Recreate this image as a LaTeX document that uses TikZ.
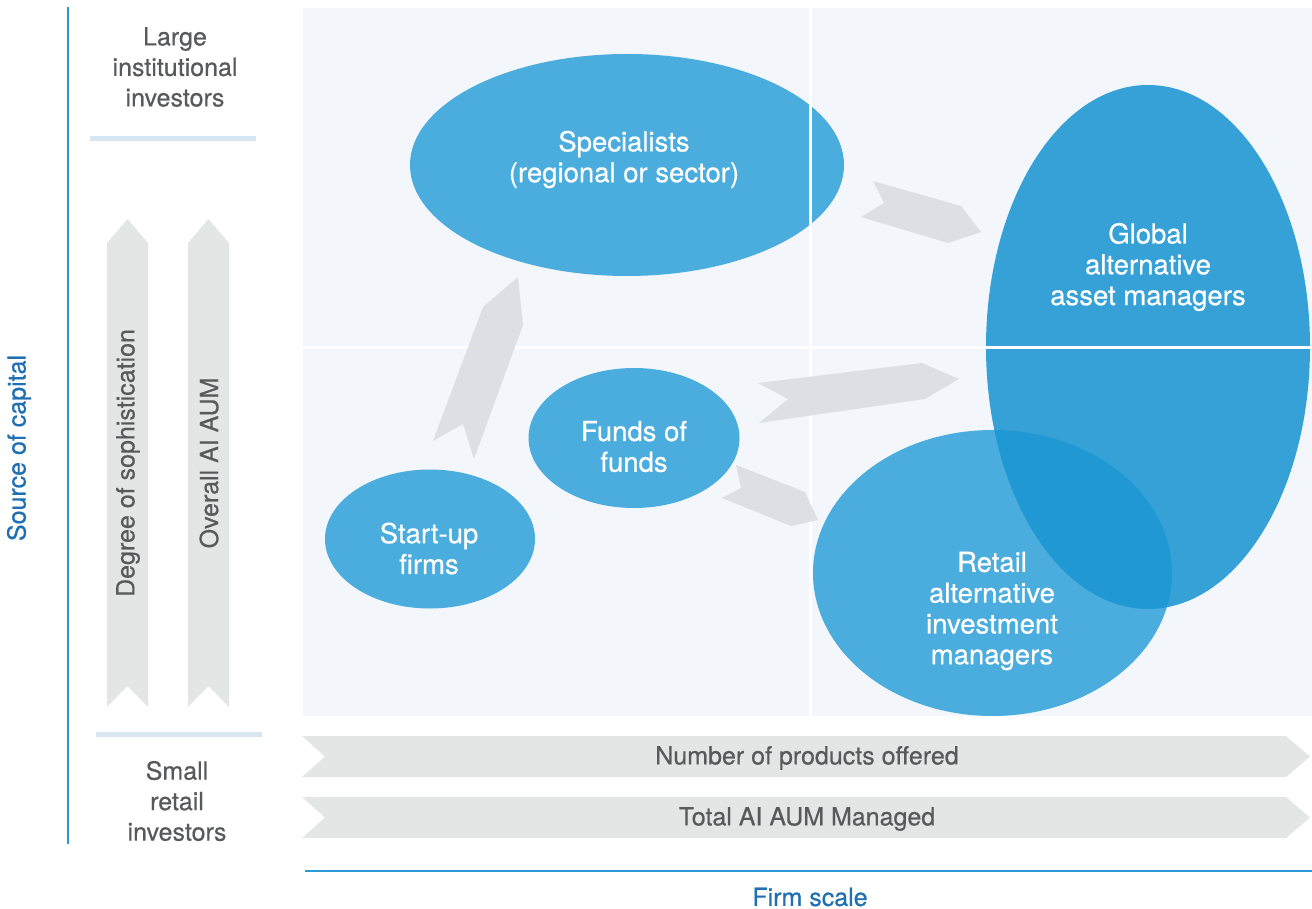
\documentclass[tikz,border=0pt]{standalone}
\usepackage{fontspec}
\setmainfont{TeX Gyre Heros}
\newfontfamily\blobfam[FakeBold=0.6]{TeX Gyre Heros}
\newfontfamily\labelfam[FakeBold=0.5]{TeX Gyre Heros}
\usetikzlibrary{shapes.geometric}
\definecolor{panelbg}{HTML}{F3F7FB}
\definecolor{blobblue}{HTML}{4AADDD}
\definecolor{globalblue}{HTML}{1B96D3}
\definecolor{arrgray}{HTML}{D8DBDF}
\definecolor{bargray}{HTML}{E4E5E5}
\definecolor{labelgray}{HTML}{58595B}
\definecolor{axisblue}{HTML}{2C9AD6}
\definecolor{titleblue}{HTML}{1F6FB2}
\definecolor{sepblue}{HTML}{D6E6F3}
\newcommand\lblfont{\labelfam\fontsize{25}{30.5}\selectfont}
\newcommand\blobfont{\blobfam\fontsize{27.5}{30.8}\selectfont}
\tikzset{
  blob/.style={ellipse, fill=blobblue, inner sep=0pt},
  blobtext/.style={text=white, align=center, font=\blobfont},
  flowarrow/.style={fill=arrgray, fill opacity=0.85},
  scalebar/.style={fill=bargray},
  sidelabel/.style={text=labelgray, align=center, font=\lblfont},
  axislabel/.style={text=titleblue, font=\lblfont},
  gridline/.style={draw=white, line width=3pt},
  sepline/.style={draw=sepblue, line width=5pt},
  axisline/.style={draw=axisblue, line width=2pt}
}
\begin{document}
\begin{tikzpicture}[x=1pt,y=-1pt]
\useasboundingbox (0,0) rectangle (1312,909);
% panel
\fill[panelbg] (303,8) rectangle (1312,716);
\begin{scope}
\clip (303,8) rectangle (1312,716);
\node[blob, minimum width=434pt, minimum height=222pt] (spec) at (627,165) {};
\node[blob, minimum width=211pt, minimum height=140pt] (fof) at (634,438) {};
\node[blob, minimum width=210pt, minimum height=139pt] (start) at (430,539) {};
\node[blob, minimum width=359pt, minimum height=286pt] (retail) at (992.5,573) {};
\node[ellipse, fill=globalblue, fill opacity=0.88, inner sep=0pt, minimum width=324pt, minimum height=524pt] (global) at (1148,347) {};
\end{scope}
\node[blobtext] (spectxt) at (624,159.5) {Specialists\\(regional or sector)};
\node[blobtext] (foftxt) at (634,446.5) {Funds of\\funds};
\node[blobtext] (starttxt) at (429,548.5) {Start-up\\firms};
\node[blobtext] (globaltxt) at (1148,267) {Global\\alternative\\asset managers};
\node[blobtext] (retailtxt) at (992,611) {Retail\\alternative\\investment\\managers};
% grid lines
\coordinate (vtop) at (810,8);
\coordinate (vbot) at (810,716);
\coordinate (hl) at (303,347.5);
\coordinate (hr) at (1312,347.5);
\draw[gridline] (vtop) -- (vbot);
\draw[gridline] (hl) -- (hr);
% flow arrows
\fill[flowarrow] (518,277) -- (523,325) -- (474,459) -- (463,424) -- (433,441) -- (483,307) -- cycle;
\fill[flowarrow] (873,181) -- (961,206) -- (981,232) -- (948,243) -- (861,217) -- (884,203) -- cycle;
\fill[flowarrow] (758,383) -- (922,363) -- (959,379) -- (925,399) -- (759,423) -- (788,399) -- cycle;
\fill[flowarrow] (736,465) -- (805,492) -- (818,520) -- (791,526) -- (722,498) -- (741,488) -- cycle;
% left axis
\coordinate (ax1) at (67.5,7);
\coordinate (ax2) at (67.5,844);
\draw[axisline] (ax1) -- (ax2);
\node[axislabel, rotate=90] (src) at (19,448) {Source of capital};
% separators
\coordinate (s1a) at (90,138.5);
\coordinate (s1b) at (256,138.5);
\coordinate (s2a) at (96,734);
\coordinate (s2b) at (262,734);
\draw[sepline] (s1a) -- (s1b);
\draw[sepline] (s2a) -- (s2b);
\node[sidelabel] (large) at (175,67) {Large\\institutional\\investors};
\node[sidelabel] (small) at (177,801) {Small\\retail\\investors};
% vertical arrows
\fill[scalebar] (107,243) -- (127.5,219) -- (148,243) -- (148,707) -- (127.5,686) -- (107,707) -- cycle;
\fill[scalebar] (188,243) -- (208.5,219) -- (229,243) -- (229,707) -- (208.5,686) -- (188,707) -- cycle;
\node[sidelabel, rotate=90] (soph) at (128,463) {Degree of sophistication};
\node[sidelabel, rotate=90] (aum) at (209,463) {Overall AI AUM};
% horizontal bars
\fill[scalebar] (302,736) -- (1286,736) -- (1310,756.5) -- (1286,777) -- (302,777) -- (325,756.5) -- cycle;
\fill[scalebar] (302,797) -- (1286,797) -- (1310,817.5) -- (1286,838) -- (302,838) -- (325,817.5) -- cycle;
\node[sidelabel] (prod) at (807,758) {Number of products offered};
\node[sidelabel] (total) at (807,819) {Total AI AUM Managed};
% bottom axis
\coordinate (bx1) at (305,871);
\coordinate (bx2) at (1312,871);
\draw[axisline] (bx1) -- (bx2);
\node[axislabel] (firm) at (810,897) {Firm scale};
\end{tikzpicture}
\end{document}
